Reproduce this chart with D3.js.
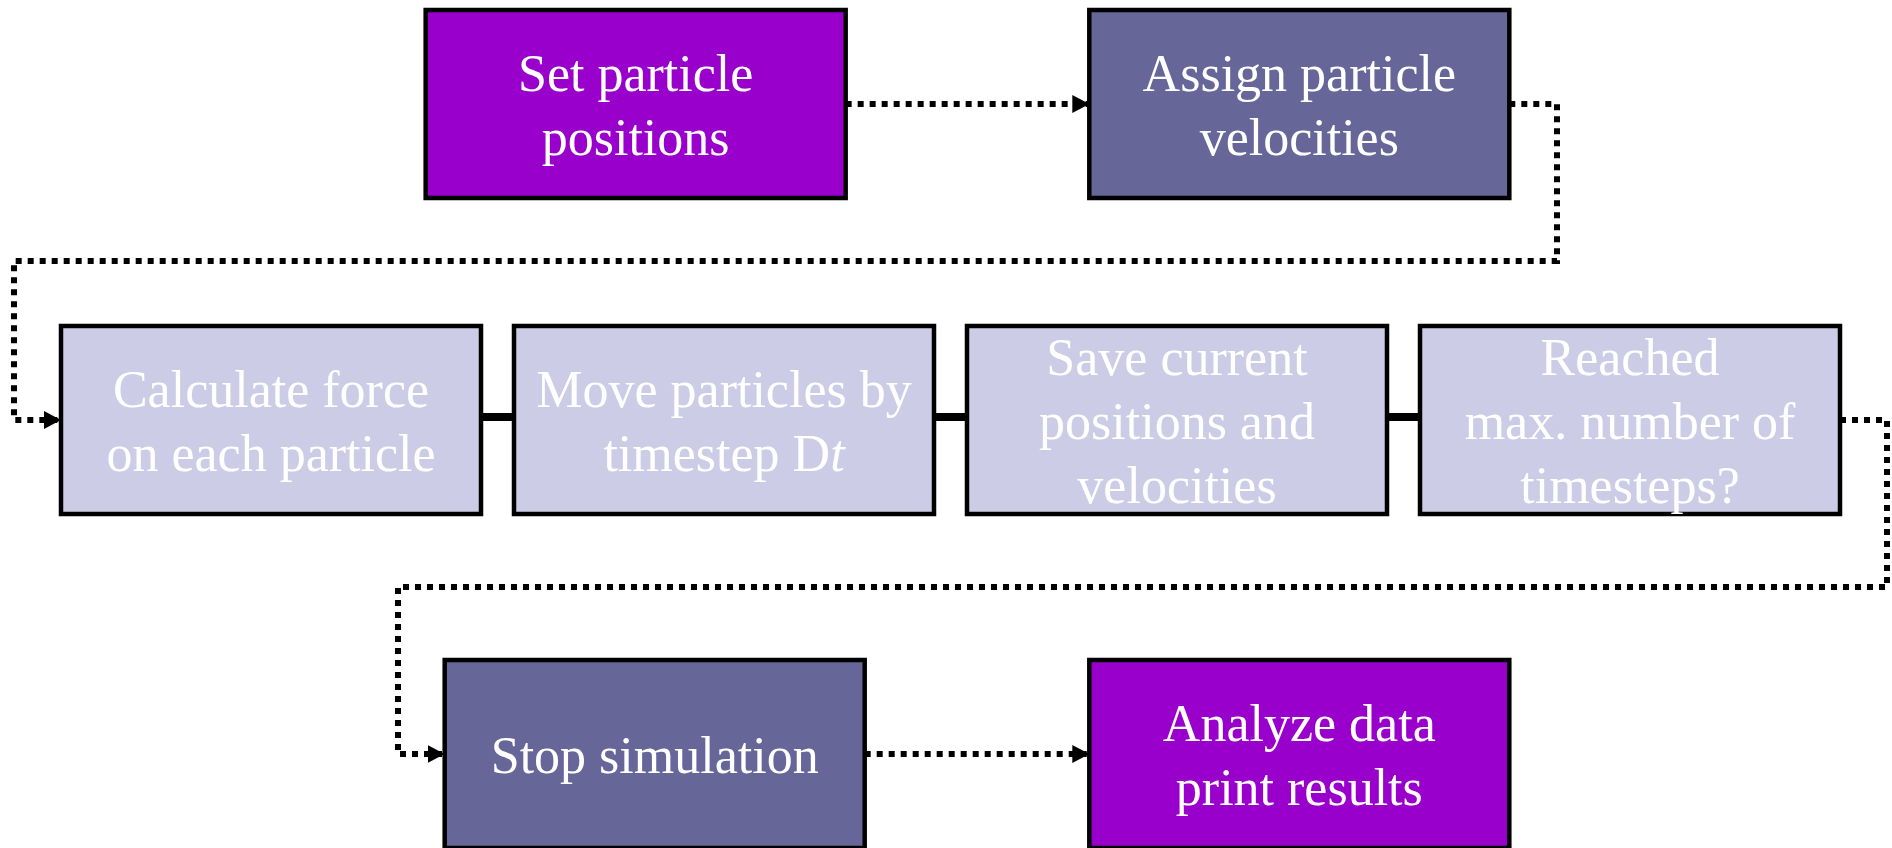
<!DOCTYPE html>
<html lang="en">
<head>
<meta charset="utf-8">
<title>MD flowchart</title>
<script src="https://d3js.org/d3.v7.min.js"></script>
<style>
  body { margin: 0; background: #fff; }
  .label { font-family: "Liberation Serif", "Times New Roman", serif; font-size: 52px; fill: #fff; }
  .dotted { fill: none; stroke: #000; stroke-width: 6; stroke-dasharray: 6,6; }
  .solid { fill: none; stroke: #000; stroke-width: 8; }
</style>
</head>
<body>
<script>
// box contents (underscores mark italic text)
var labels = [
  ["Set particle", "positions"],
  ["Assign particle", "velocities"],
  ["Calculate force", "on each particle"],
  ["Move particles by", "timestep D_t_"],
  ["Save current", "positions and", "velocities"],
  ["Reached", "max. number of", "timesteps?"],
  ["Stop simulation"],
  ["Analyze data", "print results"]
];
var fills = ["#9900cc", "#666699", "#cccce6", "#cccce6", "#cccce6", "#cccce6", "#666699", "#9900cc"];
var rows = [0, 0, 1, 1, 1, 1, 2, 2];
var cols = [0.805, 2.27, 0, 1, 2, 3, 0.847, 2.27];

// links: from, to, kind, route
var linkFrom = [0, 1, 2, 3, 4, 5, 6];
var linkTo   = [1, 2, 3, 4, 5, 6, 7];
var linkKind = ["dotted", "dotted", "solid", "solid", "solid", "dotted", "dotted"];
var linkRoute = [null, 0, null, null, null, 1, null];

// gutters for the wrap-around links
var gutterRight = [1557, 1887];
var gutterLeft = [14, 398];
var gutterMid = [261, 587];

var W = 1892, H = 848;
var boxW = 420, boxH = 188, lineH = 64;

var x = d3.scaleLinear().domain([0, 3]).range([61, 1420]);
var y = d3.scaleOrdinal().domain([0, 1, 2]).range([10, 326, 660]);

var boxes = labels.map(function(l, i) {
  return {lines: l, fill: fills[i], x: x(cols[i]), y: y(rows[i])};
});

var svg = d3.select("body").append("svg")
  .attr("width", W)
  .attr("height", H);

svg.append("defs").append("marker")
  .attr("id", "arrow")
  .attr("markerUnits", "userSpaceOnUse")
  .attr("viewBox", "0 -9 17 18")
  .attr("refX", 17)
  .attr("refY", 0)
  .attr("markerWidth", 17)
  .attr("markerHeight", 18)
  .attr("orient", "auto")
  .append("path")
  .attr("d", "M0,-9L17,0L0,9Z")
  .attr("fill", "#000");

var links = linkFrom.map(function(f, i) {
  var a = boxes[f], b = boxes[linkTo[i]];
  var ay = a.y + boxH / 2, by = b.y + boxH / 2;
  var pts;
  if (linkKind[i] == "solid") {
    pts = [[a.x + boxW, ay - 3], [b.x, by - 3]];
  } else if (linkRoute[i] === null) {
    pts = [[a.x + boxW, ay], [b.x, by]];
  } else {
    var r = linkRoute[i];
    pts = [[a.x + boxW, ay], [gutterRight[r], ay], [gutterRight[r], gutterMid[r]],
           [gutterLeft[r], gutterMid[r]], [gutterLeft[r], by], [b.x, by]];
  }
  return {pts: pts, kind: linkKind[i]};
});

var line = d3.line();

svg.selectAll(".link")
  .data(links)
  .enter().append("path")
  .attr("class", function(d) { return d.kind; })
  .attr("d", function(d) { return line(d.pts); })
  .attr("marker-end", function(d) { return d.kind == "dotted" ? "url(#arrow)" : null; });

var g = svg.selectAll(".box")
  .data(boxes)
  .enter().append("g")
  .attr("class", "box")
  .attr("transform", function(d) { return "translate(" + d.x + "," + d.y + ")"; });

g.append("rect")
  .attr("width", boxW)
  .attr("height", boxH)
  .attr("fill", function(d) { return d.fill; })
  .attr("stroke", "#000")
  .attr("stroke-width", 4.5);

g.each(function(d) {
  var n = d.lines.length;
  var el = d3.select(this);
  d.lines.forEach(function(txt, i) {
    var t = el.append("text")
      .attr("class", "label")
      .attr("x", boxW / 2)
      .attr("y", boxH / 2 + (i - (n - 1) / 2) * lineH + 19)
      .attr("text-anchor", "middle");
    txt.split("_").forEach(function(part, k) {
      if (part === "") return;
      t.append("tspan")
        .style("font-style", k % 2 ? "italic" : "normal")
        .text(part);
    });
  });
});
</script>
</body>
</html>
